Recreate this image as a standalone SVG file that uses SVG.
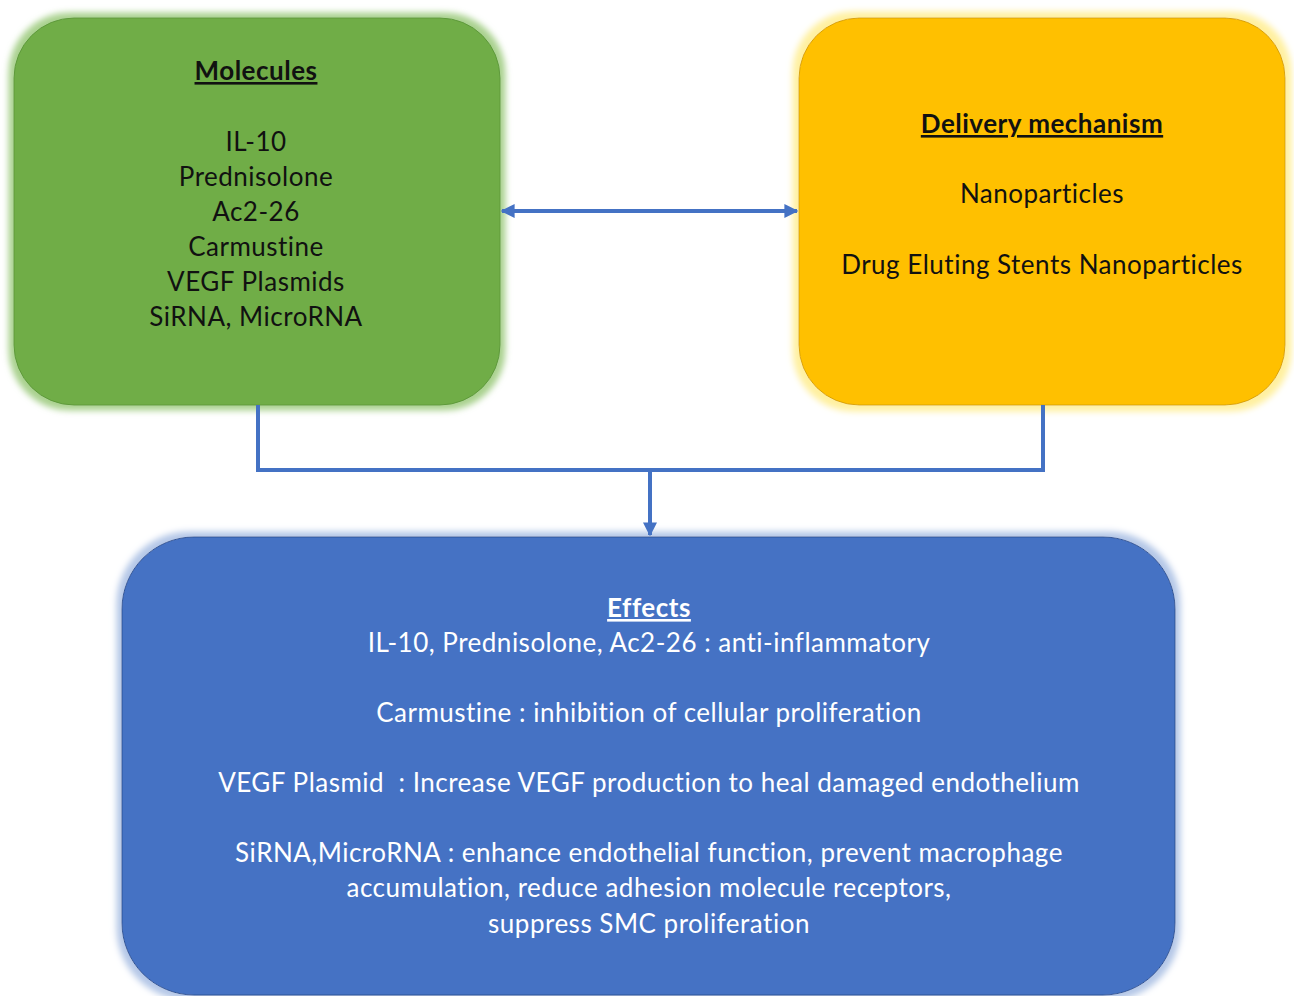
<svg xmlns="http://www.w3.org/2000/svg" width="1294" height="996" viewBox="0 0 1294 996">
<style>
.t{font-family:Lato,"Open Sans","Liberation Sans",sans-serif;font-size:26px;letter-spacing:0.5px;text-anchor:middle}
.dk{fill:#111}
.wh{fill:#fff}
.h{font-weight:bold;text-decoration:underline}
.conn{fill:none;stroke:#4472C4;stroke-width:4}
</style>
<defs>
<filter id="glowG" x="-10%" y="-10%" width="120%" height="120%">
<feMorphology in="SourceAlpha" operator="dilate" radius="5" result="d"/>
<feGaussianBlur in="d" stdDeviation="3" result="b"/>
<feFlood flood-color="#A9D18E"/>
<feComposite in2="b" operator="in" result="g"/>
<feMerge><feMergeNode in="g"/><feMergeNode in="SourceGraphic"/></feMerge>
</filter>
<filter id="glowY" x="-10%" y="-10%" width="120%" height="120%">
<feMorphology in="SourceAlpha" operator="dilate" radius="6" result="d"/>
<feGaussianBlur in="d" stdDeviation="3" result="b"/>
<feFlood flood-color="#FFF0A0"/>
<feComposite in2="b" operator="in" result="g"/>
<feMerge><feMergeNode in="g"/><feMergeNode in="SourceGraphic"/></feMerge>
</filter>
<filter id="glowB" x="-10%" y="-10%" width="120%" height="120%">
<feMorphology in="SourceAlpha" operator="dilate" radius="5" result="d"/>
<feGaussianBlur in="d" stdDeviation="3" result="b"/>
<feFlood flood-color="#B4C7E7"/>
<feComposite in2="b" operator="in" result="g"/>
<feMerge><feMergeNode in="g"/><feMergeNode in="SourceGraphic"/></feMerge>
</filter>
<marker id="arr" viewBox="0 0 10 10" refX="9" refY="5" markerWidth="3.5" markerHeight="3.5" orient="auto-start-reverse">
<path d="M0,0 L10,5 L0,10 z" fill="#4472C4"/>
</marker>
</defs>

<g id="molecules">
<rect x="14" y="18" width="486" height="387" rx="60" ry="60" fill="#70AD47" stroke="#5E9A3A" stroke-width="1" filter="url(#glowG)"/>
<text class="t dk h" x="256" y="80">Molecules</text>
<text class="t dk" x="256" y="151">IL-10</text>
<text class="t dk" x="256" y="186">Prednisolone</text>
<text class="t dk" x="256" y="221">Ac2-26</text>
<text class="t dk" x="256" y="256">Carmustine</text>
<text class="t dk" x="256" y="291">VEGF Plasmids</text>
<text class="t dk" x="256" y="326">SiRNA, MicroRNA</text>
</g>

<g id="delivery">
<rect x="799" y="18" width="486" height="387" rx="60" ry="60" fill="#FFC000" stroke="#D9A400" stroke-width="1" filter="url(#glowY)"/>
<text class="t dk h" x="1042" y="133">Delivery mechanism</text>
<text class="t dk" x="1042" y="203">Nanoparticles</text>
<text class="t dk" x="1042" y="274">Drug Eluting Stents Nanoparticles</text>
</g>

<g id="effects">
<rect x="122" y="537" width="1053" height="458" rx="72" ry="72" fill="#4472C4" stroke="#2F5597" stroke-width="1" filter="url(#glowB)"/>
<text class="t wh h" x="649" y="617">Effects</text>
<text class="t wh" x="649" y="652">IL-10, Prednisolone, Ac2-26 : anti-inflammatory</text>
<text class="t wh" x="649" y="722">Carmustine : inhibition of cellular proliferation</text>
<text class="t wh" x="649" y="792" xml:space="preserve">VEGF Plasmid  : Increase VEGF production to heal damaged endothelium</text>
<text class="t wh" x="649" y="862">SiRNA,MicroRNA : enhance endothelial function, prevent macrophage</text>
<text class="t wh" x="649" y="897">accumulation, reduce adhesion molecule receptors,</text>
<text class="t wh" x="649" y="933">suppress SMC proliferation</text>
</g>

<g id="connectors">
<line class="conn" x1="502" y1="211" x2="797" y2="211" stroke-width="3" marker-start="url(#arr)" marker-end="url(#arr)"/>
<polyline class="conn" points="258,405 258,470 1043,470 1043,405"/>
<line class="conn" x1="650" y1="470" x2="650" y2="535" marker-end="url(#arr)"/>
</g>
</svg>
